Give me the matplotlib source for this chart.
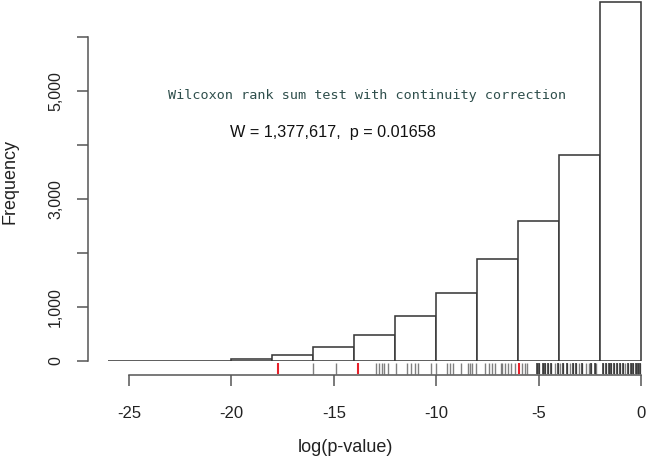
import matplotlib
matplotlib.use('Agg')
import matplotlib.pyplot as plt
import numpy as np

# histogram of log(p-value), bins of width 2 from -26 to 0
bin_edges = [-26, -24, -22, -20, -18, -16, -14, -12, -10, -8, -6, -4, -2, 0]
counts = [4, 3, 6, 32, 115, 250, 490, 835, 1255, 1885, 2590, 3820, 6640]

# rug marks under the axis
rug_grey = [-16.0, -14.88, -12.93, -12.81, -12.67, -12.55, -12.33, -11.96, -11.41,
            -11.22, -11.02, -10.90, -10.26, -10.0, -9.49, -9.35, -9.20, -8.81,
            -8.47, -8.35, -8.25, -8.08, -7.62, -7.40, -7.28, -7.14, -6.85, -6.77,
            -6.63, -6.51, -6.34, -6.17, -5.83, -5.66, -5.58, -5.07, -4.98, -4.81,
            -4.68, -4.56, -4.39, -4.22, -4.05, -3.96, -3.79, -3.62, -3.45, -3.32,
            -3.20, -3.03, -2.86, -2.69, -2.55, -2.43, -2.26, -2.18, -1.84, -1.72,
            -1.58, -1.45, -1.33, -1.16, -1.04, -0.90, -0.77, -0.65, -0.51, -0.39,
            -0.26, -0.14, -0.05]
# darker rug lines (several values on top of each other)
rug_dark = [-5.07, -4.98, -4.81, -4.68, -4.56, -4.39, -4.05, -3.79, -3.62, -3.32,
            -3.20, -2.86, -2.43, -2.26, -1.84, -1.72, -1.58, -1.45, -1.33, -1.16,
            -1.04, -0.90, -0.65, -0.51, -0.39, -0.26, -0.14, -0.05]
rug_red = [-17.74, -13.83, -5.95]

xticks = [-25, -20, -15, -10, -5, 0]
yticks = [0, 1000, 2000, 3000, 4000, 5000, 6000]
ylabels = ['0', '1,000', '', '3,000', '', '5,000', '']

test_name = 'Wilcoxon rank sum test with continuity correction'
test_stat = 'W = 1,377,617,  p = 0.01658'

W, H = 647, 462
plt.rcParams['font.family'] = ['Liberation Sans', 'DejaVu Sans']
fig = plt.figure(figsize=(W / 100, H / 100), dpi=100)

axc = '#555555'
xlim = (-27.0, 0.29)

# main histogram
ax = fig.add_axes([88 / W, (H - 361) / H, (W - 88) / W, 361 / H])
ax.bar(bin_edges[:-1], counts, width=np.diff(bin_edges), align='edge',
       facecolor='white', edgecolor='#3a3a3a', linewidth=1.15)
ax.set_xlim(*xlim)
ax.set_ylim(0, 6685)
for s in ['top', 'right', 'bottom']:
    ax.spines[s].set_visible(False)
ax.spines['left'].set_bounds(0, 6000)
ax.spines['left'].set_color(axc)
ax.spines['left'].set_linewidth(1.1)
ax.set_xticks([])
ax.set_yticks(yticks)
ax.set_yticklabels(ylabels, rotation=90, va='center', fontsize=11.5, color='#222222')
ax.tick_params(axis='y', direction='out', length=8, width=1.1, color=axc, pad=10)

# rug strip with the x axis
ax2 = fig.add_axes([88 / W, (H - 375) / H, (W - 88) / W, 13 / H])
ax2.set_xlim(*xlim)
ax2.set_ylim(0, 1)
ax2.vlines(rug_grey, 0.1, 0.95, color='#606060', linewidth=1.0, alpha=0.8)
ax2.vlines(rug_dark, 0.1, 0.95, color='#202020', linewidth=1.2, alpha=0.85)
ax2.vlines(rug_red, 0.1, 0.95, color='#e8202a', linewidth=1.5)
for s in ['top', 'right', 'left']:
    ax2.spines[s].set_visible(False)
ax2.spines['bottom'].set_bounds(-25, 0)
ax2.spines['bottom'].set_color(axc)
ax2.spines['bottom'].set_linewidth(1.1)
ax2.set_yticks([])
ax2.set_xticks(xticks)
ax2.set_xticklabels([str(t) for t in xticks], fontsize=12, color='#222222')
ax2.tick_params(axis='x', direction='out', length=8, width=1.1, color=axc, pad=14)
ax2.patch.set_alpha(0)

fig.text(10 / W, 1 - 182 / H, 'Frequency', rotation=90, ha='center', va='center',
         fontsize=13, color='#222222')
fig.text(345 / W, 1 - 448 / H, 'log(p-value)', ha='center', va='center',
         fontsize=13, color='#222222')

fig.text(367 / W, 1 - 95 / H, test_name, ha='center', va='center',
         family='DejaVu Sans Mono', fontsize=9.7, color='#2f4f4c')
fig.text(333 / W, 1 - 132 / H, test_stat, ha='center', va='center',
         fontsize=11.7, color='#111111')

fig.savefig('out.png', dpi=100)
